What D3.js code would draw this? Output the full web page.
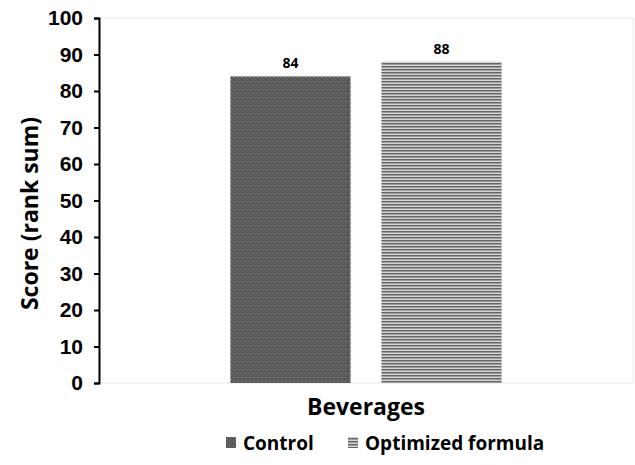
<!DOCTYPE html>
<html>
<head>
<meta charset="utf-8">
<script src="https://cdn.jsdelivr.net/npm/d3@7"></script>
<style>
  html, body { margin: 0; padding: 0; background: #fff; }
  svg { display: block; }
</style>
</head>
<body>
<svg id="chart" width="635" height="465"></svg>
<script>
// Chart data
const categories = ["Beverages"];
const seriesNames = ["Control", "Optimized formula"];
const seriesValues = [84, 88];
const yTicks = [0, 10, 20, 30, 40, 50, 60, 70, 80, 90, 100];

const width = 635, height = 465;
const margin = { top: 18, right: 2, bottom: 82, left: 99 };
const svg = d3.select("#chart");
const titleFont = "'Open Sans', Lato, sans-serif";

// Fill patterns for the two series
const defs = svg.append("defs");
const dots = defs.append("pattern")
  .attr("id", "pat-control").attr("patternUnits", "userSpaceOnUse")
  .attr("width", 4).attr("height", 4);
dots.append("rect").attr("width", 4).attr("height", 4).attr("fill", "#575757");
dots.append("rect").attr("x", 1).attr("y", 1).attr("width", 1).attr("height", 1).attr("fill", "#9a9a9a");
dots.append("rect").attr("x", 3).attr("y", 3).attr("width", 1).attr("height", 1).attr("fill", "#777");

const stripes = defs.append("pattern")
  .attr("id", "pat-opt").attr("patternUnits", "userSpaceOnUse")
  .attr("width", 4).attr("height", 3);
stripes.append("rect").attr("width", 4).attr("height", 3).attr("fill", "#d4d4d4");
stripes.append("rect").attr("y", 0).attr("width", 4).attr("height", 1.5).attr("fill", "#666");

const fills = ["url(#pat-control)", "url(#pat-opt)"];

const x0 = d3.scaleBand().domain(categories)
  .range([margin.left, width - margin.right]).padding(0);
const x1 = d3.scaleBand().domain(seriesNames)
  .range([0, x0.bandwidth()]).paddingInner(0.205).paddingOuter(0.87);
const y = d3.scaleLinear().domain([0, 100]).range([height - margin.bottom, margin.top]);

// Light plot frame
svg.append("rect")
  .attr("x", margin.left).attr("y", margin.top)
  .attr("width", width - margin.left - margin.right)
  .attr("height", y(0) - margin.top)
  .attr("fill", "none").attr("stroke", "#e6e6e6").attr("stroke-width", 1);

// Bars with value labels
const g = svg.append("g");
categories.forEach(cat => {
  seriesNames.forEach((s, i) => {
    const v = seriesValues[i];
    const bx = x0(cat) + x1(s);
    g.append("rect")
      .attr("x", bx).attr("y", y(v))
      .attr("width", x1.bandwidth()).attr("height", y(0) - y(v))
      .attr("fill", fills[i]);
    g.append("text")
      .attr("x", bx + x1.bandwidth() / 2).attr("y", y(v) - 8)
      .attr("text-anchor", "middle")
      .attr("font-family", titleFont)
      .attr("font-weight", "bold").attr("font-size", 14)
      .attr("fill", "#000")
      .text(v);
  });
});

// Y axis
const yAxis = d3.axisLeft(y).tickValues(yTicks).tickSize(5).tickPadding(11);
const ya = svg.append("g").attr("transform", `translate(${margin.left},0)`).call(yAxis);
ya.select(".domain").attr("stroke", "#000").attr("stroke-width", 2);
ya.selectAll(".tick line").attr("stroke", "#000").attr("stroke-width", 2);
ya.selectAll(".tick text")
  .attr("font-family", "'Liberation Sans', Arial, sans-serif")
  .attr("font-weight", "bold").attr("font-size", 21).attr("fill", "#000");

// Axis titles
svg.append("text")
  .attr("x", (margin.left + width - margin.right) / 2).attr("y", 415)
  .attr("text-anchor", "middle")
  .attr("font-family", titleFont)
  .attr("font-weight", "bold").attr("font-size", 23).attr("fill", "#000")
  .text(categories[0]);

svg.append("text")
  .attr("transform", `translate(38,${(margin.top + y(0)) / 2 + 13}) rotate(-90)`)
  .attr("text-anchor", "middle")
  .attr("font-family", titleFont)
  .attr("font-weight", "bold").attr("font-size", 23).attr("fill", "#000")
  .text("Score (rank sum)");

// Legend
const legendX = [226, 348];
const legend = svg.append("g");
seriesNames.forEach((s, i) => {
  legend.append("rect")
    .attr("x", legendX[i]).attr("y", 437)
    .attr("width", 10).attr("height", 11)
    .attr("fill", fills[i]);
  legend.append("text")
    .attr("x", legendX[i] + 17).attr("y", 450)
    .attr("font-family", titleFont)
    .attr("font-weight", "bold").attr("font-size", 19).attr("fill", "#000")
    .text(s);
});
</script>
</body>
</html>
